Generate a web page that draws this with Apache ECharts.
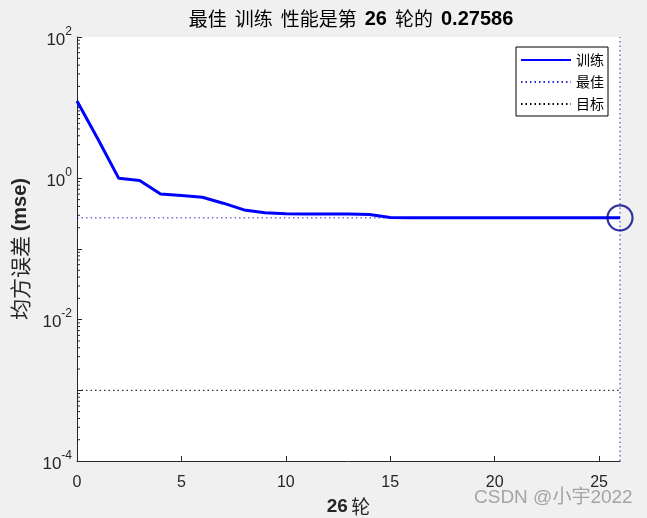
<!DOCTYPE html>
<html>
<head>
<meta charset="utf-8">
<script src="https://cdn.jsdelivr.net/npm/echarts@6/dist/echarts.min.js"></script>
<style>
html,body{margin:0;padding:0;background:#F0F0F0;}
#c{width:647px;height:518px;}
</style>
</head>
<body>
<div id="c"></div>
<script>
// ---- data ----
var epochs = [0,1,2,3,4,5,6,7,8,9,10,11,12,13,14,15,16,17,18,19,20,21,22,23,24,25,26];
var trainPerf = [12.4,3.6,1.0,0.93,0.60,0.571,0.54,0.445,0.357,0.327,0.315,0.314,0.313,0.312,0.308,0.280,0.2765,0.2762,0.2761,0.2760,0.2760,0.2760,0.2759,0.2759,0.2759,0.2759,0.27586];
var bestEpoch = 26;
var bestPerf = 0.27586;
var goal = 0.001;
var yMin = 1e-4, yMax = 100;
var xTicks = [0,5,10,15,20,25];
var yDecades = [-4,-3,-2,-1,0,1];
var yMinorMultipliers = [2,3,4,5,6,7,8,9];
var legendNames = ['训练','最佳','目标'];

var trainData = epochs.map(function(e,i){return [e, trainPerf[i]];});
var bestLine = [[epochs[0], bestPerf],[epochs[epochs.length-1], bestPerf]];
var goalLine = [[epochs[0], goal],[epochs[epochs.length-1], goal]];
var vLine = [[bestEpoch, yMin],[bestEpoch, yMax]];
var minorTickVals = [];
yDecades.forEach(function(d){ yMinorMultipliers.forEach(function(m){ minorTickVals.push([0, m*Math.pow(10,d)]); }); });

var chart = echarts.init(document.getElementById('c'));
var txt = '#262626';
var dotted = [1.5, 3];
chart.setOption({
  backgroundColor: '#F0F0F0',
  animation: false,
  title: {
    text: '{c|最佳}{g| }{c|训练}{g| }{c|性能是第}{g| }{b|26}{g| }{c|轮的}{g| }{b|0.27586}',
    left: 346, top: 4, textAlign: 'center',
    textStyle: {
      rich: {
        c: {fontFamily: 'Noto Sans CJK SC', fontSize: 19, fontWeight: 'normal', color: '#000'},
        b: {fontFamily: 'Liberation Sans', fontSize: 20, fontWeight: 'bold', color: '#000'},
        g: {fontFamily: 'Liberation Sans', fontSize: 19, width: 8}
      }
    }
  },
  grid: {left: 77, right: 27, top: 37, bottom: 57, outerBoundsMode: 'none', containLabel: false, show: true, backgroundColor: '#fff', borderWidth: 0},
  legend: {
    data: legendNames,
    orient: 'vertical',
    right: 39, top: 47,
    backgroundColor: '#fff',
    borderColor: '#000', borderWidth: 1,
    padding: [6, 4, 5, 4],
    itemGap: 8,
    itemWidth: 50, itemHeight: 14,
    itemStyle: {color: 'rgba(0,0,0,0)', borderWidth: 0},
    textStyle: {fontFamily: 'Noto Sans CJK SC', fontSize: 14, color: '#000'}
  },
  xAxis: {
    type: 'value', min: 0, max: 26, interval: 5,
    name: '{b|26} {c|轮}', nameLocation: 'middle', nameGap: 36,
    nameTextStyle: {rich: {
      b: {fontFamily: 'Liberation Sans', fontSize: 19, fontWeight: 'bold', color: txt},
      c: {fontFamily: 'Noto Sans CJK SC', fontSize: 19, color: txt}
    }},
    axisLine: {show: true, lineStyle: {color: txt, width: 1}},
    axisTick: {show: true, inside: true, length: 5, lineStyle: {color: txt}},
    splitLine: {show: false},
    axisLabel: {
      fontFamily: 'Liberation Sans', fontSize: 16, color: txt, margin: 14, showMaxLabel: false,
      formatter: function(v){ return xTicks.indexOf(v) >= 0 ? String(v) : ''; }
    }
  },
  yAxis: {
    type: 'log', logBase: 10, min: yMin, max: yMax, interval: 1,
    name: '{c|均方误差 }{b|(mse)}', nameLocation: 'middle', nameGap: 46, nameRotate: 90,
    nameTextStyle: {rich: {
      b: {fontFamily: 'Liberation Sans', fontSize: 20, fontWeight: 'bold', color: txt},
      c: {fontFamily: 'Noto Sans CJK SC', fontSize: 21, color: txt}
    }},
    axisLine: {show: true, lineStyle: {color: txt, width: 1}},
    axisTick: {show: true, inside: true, length: 5, lineStyle: {color: txt}},
    splitLine: {show: false},
    axisLabel: {
      margin: 5,
      formatter: function(v){
        var e = Math.round(Math.log10(v));
        if (e % 2 !== 0) return '';
        return '{b|10}{s|' + e + '}';
      },
      rich: {
        b: {fontFamily: 'Liberation Sans', fontSize: 17, color: txt, verticalAlign: 'bottom', padding: [6,0,0,0]},
        s: {fontFamily: 'Liberation Sans', fontSize: 12, color: txt, verticalAlign: 'top', padding: [0,0,9,0]}
      }
    }
  },
  series: [
    {name: '训练', type: 'line', data: trainData, symbol: 'none', lineStyle: {color: '#0000FF', width: 3}, itemStyle: {color: '#0000FF'}, z: 5},
    {name: '最佳', type: 'line', data: bestLine, symbol: 'none', lineStyle: {color: '#2a2ad0', width: 1, type: dotted}, itemStyle: {color: '#2a2ad0'}, z: 3},
    {name: '目标', type: 'line', data: goalLine, symbol: 'none', lineStyle: {color: '#000', width: 1, type: dotted}, itemStyle: {color: '#000'}, z: 3},
    {name: 'vbest', type: 'line', data: vLine, symbol: 'none', lineStyle: {color: '#2a2ad0', width: 1, type: dotted}, z: 3},
    {name: 'bestpt', type: 'scatter', data: [[bestEpoch, bestPerf]], symbol: 'circle', symbolSize: 25,
     itemStyle: {color: 'rgba(0,0,0,0)', borderColor: '#00008B', borderWidth: 2.2}, z: 6},
    {name: 'minorTicks', type: 'custom', data: minorTickVals, clip: false, silent: true, z: 2,
     renderItem: function(params, api){
       var p = api.coord([api.value(0), api.value(1)]);
       return {type: 'line', shape: {x1: p[0], y1: p[1], x2: p[0] + 3, y2: p[1]}, style: {stroke: txt, lineWidth: 1}};
     }}
  ],
  graphic: [{
    type: 'text', left: 474, top: 488, z: 100,
    style: {text: 'CSDN @小宇2022', fontFamily: 'Liberation Sans, Noto Sans CJK SC', fontSize: 19, fill: '#a4a4a4'}
  }]
});
</script>
</body>
</html>
